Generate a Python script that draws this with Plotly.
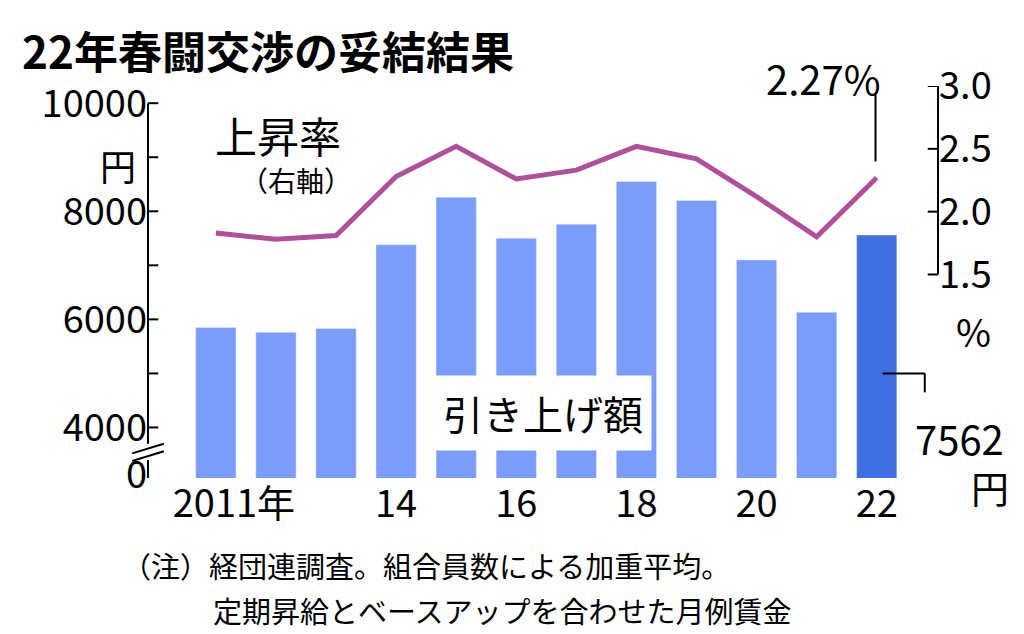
import plotly.graph_objects as go

years = [2011, 2012, 2013, 2014, 2015, 2016, 2017, 2018, 2019, 2020, 2021, 2022]
amount = [5850, 5760, 5830, 7380, 8260, 7500, 7760, 8550, 8200, 7100, 6130, 7562]
rate = [1.83, 1.78, 1.81, 2.28, 2.52, 2.26, 2.33, 2.52, 2.42, 2.12, 1.80, 2.27]
xtick_vals = [2011.3, 2014, 2016, 2018, 2020, 2022]
xtick_text = ["2011年", "14", "16", "18", "20", "22"]

F = "Noto Sans CJK JP"
colors = ["#7a9cfb"] * 11 + ["#3f6fe0"]

fig = go.Figure()
fig.add_bar(x=years, y=amount, width=0.67, marker_color=colors, base=0)
fig.add_scatter(x=years, y=rate, yaxis="y2", mode="lines",
                line=dict(color="#b0509a", width=5))

fig.update_layout(
    width=1024, height=634, showlegend=False,
    paper_bgcolor="white", plot_bgcolor="white",
    margin=dict(l=140, r=94, t=78, b=164),
    font=dict(family=F, color="black"),
    xaxis=dict(range=[2009.87, 2023.02], tickvals=xtick_vals, ticktext=xtick_text,
               showgrid=False, ticks="", tickfont=dict(size=38), showline=False),
    yaxis=dict(range=[3065, 10318], tickvals=[3130, 4000, 6000, 8000, 10000],
               ticktext=["0", "4000", "6000", "8000", "10000"], showgrid=False,
               tickfont=dict(size=38), ticks="", showline=False, zeroline=False),
    yaxis2=dict(overlaying="y", side="right", range=[-0.12, 3.0],
                tickvals=[1.5, 2.0, 2.5, 3.0], ticktext=["1.5", "2.0", "2.5", "3.0"],
                showgrid=False, tickfont=dict(size=38), ticks="", zeroline=False),
)

shapes = [
    dict(type="line", xref="paper", yref="y", x0=0, x1=0, y0=3065, y1=3400),
    dict(type="line", xref="paper", yref="y", x0=0, x1=0, y0=3700, y1=10000),
    dict(type="line", xref="paper", yref="y", x0=-0.02, x1=0.02, y0=3380, y1=3560),
    dict(type="line", xref="paper", yref="y", x0=-0.02, x1=0.02, y0=3520, y1=3700),
    dict(type="line", xref="paper", yref="y2", x0=1, x1=1, y0=1.5, y1=3.0),
    dict(type="line", xref="x", yref="y2", x0=2021.98, x1=2021.98, y0=2.4, y1=2.93),
    dict(type="line", xref="x", yref="y", x0=2022.1, x1=2022.8, y0=5000, y1=5000),
    dict(type="line", xref="x", yref="y", x0=2022.8, x1=2022.8, y0=5000, y1=4650),
]
for v in range(4000, 10001, 1000):
    shapes.append(dict(type="line", xref="paper", yref="y", x0=0, x1=0.013, y0=v, y1=v))
for v in [1.5, 2.0, 2.5, 3.0]:
    shapes.append(dict(type="line", xref="paper", yref="y2", x0=0.987, x1=1, y0=v, y1=v))
for s in shapes:
    s["line"] = dict(color="black", width=2)
fig.update_layout(shapes=shapes)

def note(text, x, y, size, xanchor="left", **kw):
    fig.add_annotation(text=text, x=x, y=y, xref="paper", yref="paper", xanchor=xanchor,
                       yanchor="middle", showarrow=False, font=dict(size=size, family=F), **kw)

def px(xp, yp):
    return (xp - 140) / 790, (470 - yp) / 392

a = px(12, 42); note("<b>22年春闘交渉の妥結結果</b>", a[0], a[1], 44)
a = px(110, 157); note("円", a[0], a[1], 36, xanchor="center")
a = px(205, 126); note("上昇率", a[0], a[1], 42)
a = px(230, 172); note("（右軸）", a[0], a[1], 28)
a = px(815, 70); note("2.27%", a[0], a[1], 40, xanchor="center")
a = px(965, 322); note("%", a[0], a[1], 38, xanchor="center")
a = px(535, 405); note("引き上げ額", a[0], a[1], 40, xanchor="center", bgcolor="white",
                       borderpad=8)
a = px(952, 430); note("7562", a[0], a[1], 40, xanchor="center")
a = px(982, 478); note("円", a[0], a[1], 38, xanchor="center")
a = px(112, 557); note("（注）経団連調査。組合員数による加重平均。", a[0], a[1], 29)
a = px(203, 602); note("定期昇給とベースアップを合わせた月例賃金", a[0], a[1], 29)

fig.write_html("out.html")
